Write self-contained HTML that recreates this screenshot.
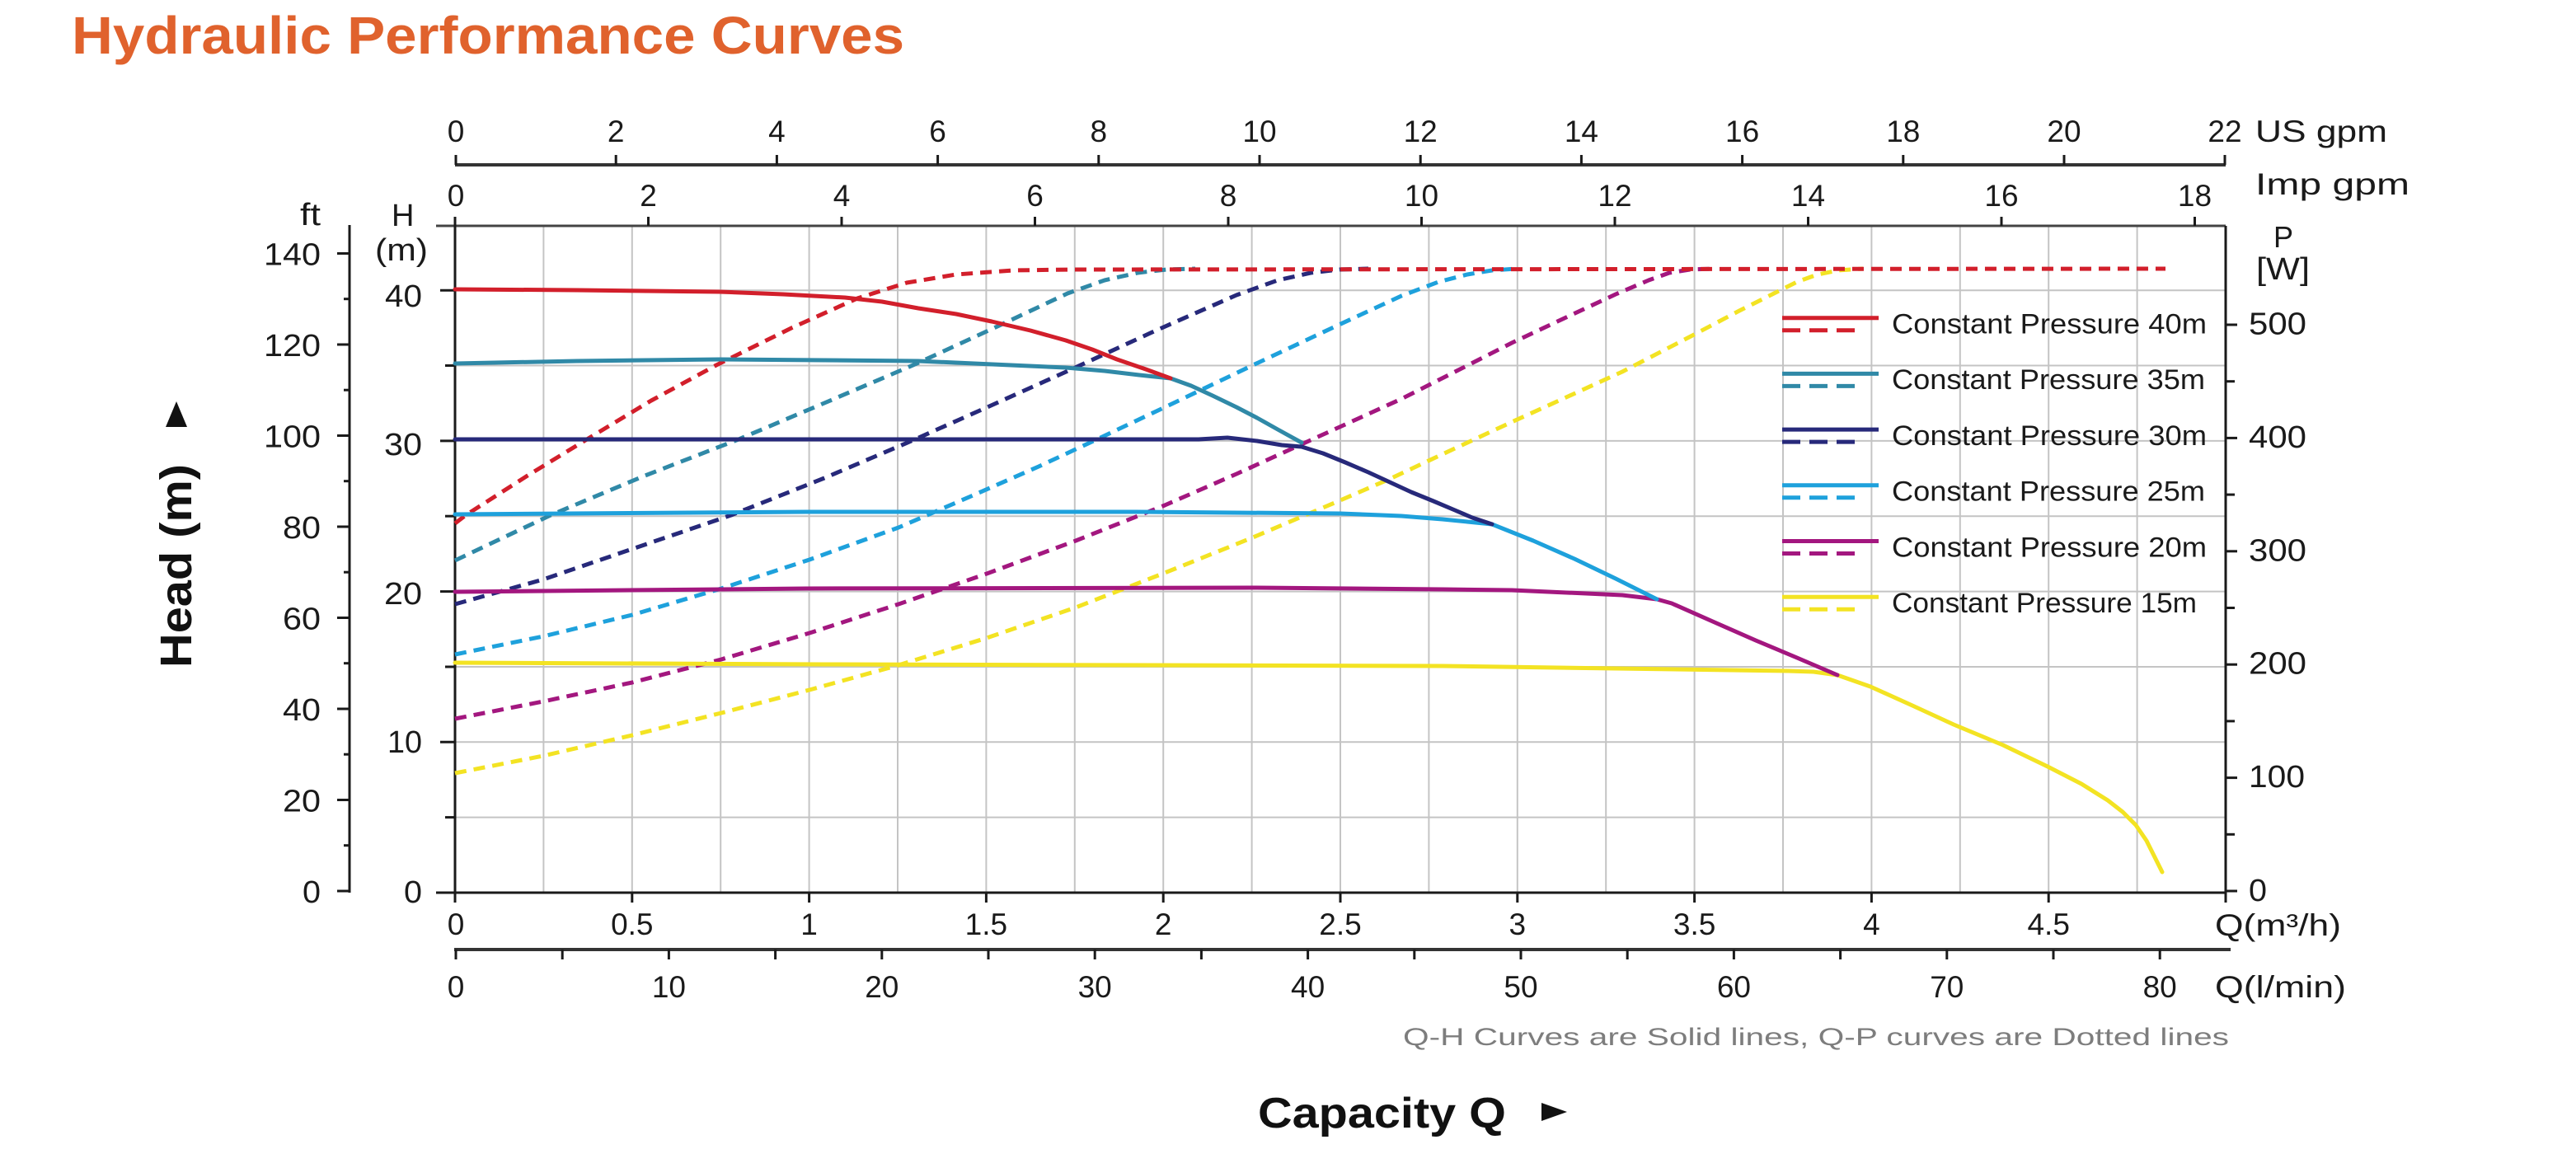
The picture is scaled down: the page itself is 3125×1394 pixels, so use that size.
<!DOCTYPE html>
<html>
<head>
<meta charset="utf-8">
<style>
html,body{margin:0;padding:0;background:#fff;width:3125px;height:1394px;overflow:hidden}
svg{display:block}
</style>
</head>
<body>
<svg width="3125" height="1394" viewBox="0 0 3125 1394" xmlns="http://www.w3.org/2000/svg" font-family="'Liberation Sans', Arial, sans-serif">
<rect width="3125" height="1394" fill="#ffffff"/>

<!-- Title -->
<text x="87" y="65" font-size="64" font-weight="bold" fill="#e0622d" textLength="1010" lengthAdjust="spacingAndGlyphs">Hydraulic Performance Curves</text>

<!-- Grid -->
<g stroke="#c4c4c4" stroke-width="2">
<line x1="659.4" y1="274" x2="659.4" y2="1083"/>
<line x1="766.8" y1="274" x2="766.8" y2="1083"/>
<line x1="874.2" y1="274" x2="874.2" y2="1083"/>
<line x1="981.6" y1="274" x2="981.6" y2="1083"/>
<line x1="1089" y1="274" x2="1089" y2="1083"/>
<line x1="1196.4" y1="274" x2="1196.4" y2="1083"/>
<line x1="1303.8" y1="274" x2="1303.8" y2="1083"/>
<line x1="1411.2" y1="274" x2="1411.2" y2="1083"/>
<line x1="1518.6" y1="274" x2="1518.6" y2="1083"/>
<line x1="1626" y1="274" x2="1626" y2="1083"/>
<line x1="1733.4" y1="274" x2="1733.4" y2="1083"/>
<line x1="1840.8" y1="274" x2="1840.8" y2="1083"/>
<line x1="1948.2" y1="274" x2="1948.2" y2="1083"/>
<line x1="2055.6" y1="274" x2="2055.6" y2="1083"/>
<line x1="2163" y1="274" x2="2163" y2="1083"/>
<line x1="2270.4" y1="274" x2="2270.4" y2="1083"/>
<line x1="2377.8" y1="274" x2="2377.8" y2="1083"/>
<line x1="2485.2" y1="274" x2="2485.2" y2="1083"/>
<line x1="2592.6" y1="274" x2="2592.6" y2="1083"/>
<line x1="552" y1="991.6" x2="2700" y2="991.6"/>
<line x1="552" y1="900.3" x2="2700" y2="900.3"/>
<line x1="552" y1="809" x2="2700" y2="809"/>
<line x1="552" y1="717.6" x2="2700" y2="717.6"/>
<line x1="552" y1="626.2" x2="2700" y2="626.2"/>
<line x1="552" y1="534.9" x2="2700" y2="534.9"/>
<line x1="552" y1="443.5" x2="2700" y2="443.5"/>
<line x1="552" y1="352.2" x2="2700" y2="352.2"/>
</g>

<!-- Axes lines -->
<g stroke="#1a1a1a" stroke-width="3" fill="none">
<line x1="552" y1="200" x2="2700" y2="200" stroke-width="4" stroke="#333"/>
<line x1="529" y1="274" x2="2700" y2="274" stroke="#444"/>
<line x1="552" y1="263" x2="552" y2="1095"/>
<line x1="2700" y1="274" x2="2700" y2="1095"/>
<line x1="529" y1="1083" x2="2700" y2="1083"/>
<line x1="551" y1="1152" x2="2706" y2="1152" stroke-width="4" stroke="#333"/>
<line x1="424" y1="273" x2="424" y2="1083"/>
</g>

<!-- ticks -->
<g stroke="#1a1a1a" stroke-width="3">
<line x1="747.2" y1="188" x2="747.2" y2="200"/>
<line x1="942.4" y1="188" x2="942.4" y2="200"/>
<line x1="1137.6" y1="188" x2="1137.6" y2="200"/>
<line x1="1332.8" y1="188" x2="1332.8" y2="200"/>
<line x1="1528" y1="188" x2="1528" y2="200"/>
<line x1="1723.2" y1="188" x2="1723.2" y2="200"/>
<line x1="1918.4" y1="188" x2="1918.4" y2="200"/>
<line x1="2113.6" y1="188" x2="2113.6" y2="200"/>
<line x1="2308.8" y1="188" x2="2308.8" y2="200"/>
<line x1="2504" y1="188" x2="2504" y2="200"/>
<line x1="2699" y1="188" x2="2699" y2="200"/>
<line x1="553" y1="188" x2="553" y2="200"/>
<line x1="786.5" y1="263" x2="786.5" y2="274"/>
<line x1="1021" y1="263" x2="1021" y2="274"/>
<line x1="1255.5" y1="263" x2="1255.5" y2="274"/>
<line x1="1490" y1="263" x2="1490" y2="274"/>
<line x1="1724.5" y1="263" x2="1724.5" y2="274"/>
<line x1="1959" y1="263" x2="1959" y2="274"/>
<line x1="2193.5" y1="263" x2="2193.5" y2="274"/>
<line x1="2428" y1="263" x2="2428" y2="274"/>
<line x1="2662.5" y1="263" x2="2662.5" y2="274"/>
<line x1="766.8" y1="1083" x2="766.8" y2="1095"/>
<line x1="981.6" y1="1083" x2="981.6" y2="1095"/>
<line x1="1196.4" y1="1083" x2="1196.4" y2="1095"/>
<line x1="1411.2" y1="1083" x2="1411.2" y2="1095"/>
<line x1="1626" y1="1083" x2="1626" y2="1095"/>
<line x1="1840.8" y1="1083" x2="1840.8" y2="1095"/>
<line x1="2055.6" y1="1083" x2="2055.6" y2="1095"/>
<line x1="2270.4" y1="1083" x2="2270.4" y2="1095"/>
<line x1="2485.2" y1="1083" x2="2485.2" y2="1095"/>
<line x1="553" y1="1152" x2="553" y2="1164"/>
<line x1="682.2" y1="1152" x2="682.2" y2="1164"/>
<line x1="811.4" y1="1152" x2="811.4" y2="1164"/>
<line x1="940.6" y1="1152" x2="940.6" y2="1164"/>
<line x1="1069.8" y1="1152" x2="1069.8" y2="1164"/>
<line x1="1199" y1="1152" x2="1199" y2="1164"/>
<line x1="1328.2" y1="1152" x2="1328.2" y2="1164"/>
<line x1="1457.4" y1="1152" x2="1457.4" y2="1164"/>
<line x1="1586.6" y1="1152" x2="1586.6" y2="1164"/>
<line x1="1715.8" y1="1152" x2="1715.8" y2="1164"/>
<line x1="1845" y1="1152" x2="1845" y2="1164"/>
<line x1="1974.2" y1="1152" x2="1974.2" y2="1164"/>
<line x1="2103.4" y1="1152" x2="2103.4" y2="1164"/>
<line x1="2232.6" y1="1152" x2="2232.6" y2="1164"/>
<line x1="2361.8" y1="1152" x2="2361.8" y2="1164"/>
<line x1="2491" y1="1152" x2="2491" y2="1164"/>
<line x1="2620.2" y1="1152" x2="2620.2" y2="1164"/>
<line x1="409" y1="1081" x2="424" y2="1081"/>
<line x1="409" y1="970.5" x2="424" y2="970.5"/>
<line x1="409" y1="860" x2="424" y2="860"/>
<line x1="409" y1="749.5" x2="424" y2="749.5"/>
<line x1="409" y1="639" x2="424" y2="639"/>
<line x1="409" y1="528.5" x2="424" y2="528.5"/>
<line x1="409" y1="418" x2="424" y2="418"/>
<line x1="409" y1="307.5" x2="424" y2="307.5"/>
<line x1="417" y1="1025.7" x2="424" y2="1025.7"/>
<line x1="417" y1="915.2" x2="424" y2="915.2"/>
<line x1="417" y1="804.7" x2="424" y2="804.7"/>
<line x1="417" y1="694.2" x2="424" y2="694.2"/>
<line x1="417" y1="583.7" x2="424" y2="583.7"/>
<line x1="417" y1="473.2" x2="424" y2="473.2"/>
<line x1="417" y1="362.7" x2="424" y2="362.7"/>
<line x1="534" y1="1083" x2="552" y2="1083"/>
<line x1="534" y1="900.3" x2="552" y2="900.3"/>
<line x1="534" y1="717.6" x2="552" y2="717.6"/>
<line x1="534" y1="534.9" x2="552" y2="534.9"/>
<line x1="534" y1="352.2" x2="552" y2="352.2"/>
<line x1="540" y1="991.6" x2="552" y2="991.6"/>
<line x1="540" y1="809" x2="552" y2="809"/>
<line x1="540" y1="626.2" x2="552" y2="626.2"/>
<line x1="540" y1="443.5" x2="552" y2="443.5"/>
<line x1="2700" y1="1081" x2="2714" y2="1081"/>
<line x1="2700" y1="943.6" x2="2714" y2="943.6"/>
<line x1="2700" y1="806.2" x2="2714" y2="806.2"/>
<line x1="2700" y1="668.8" x2="2714" y2="668.8"/>
<line x1="2700" y1="531.4" x2="2714" y2="531.4"/>
<line x1="2700" y1="394" x2="2714" y2="394"/>
<line x1="2700" y1="1012.3" x2="2711" y2="1012.3"/>
<line x1="2700" y1="874.9" x2="2711" y2="874.9"/>
<line x1="2700" y1="737.5" x2="2711" y2="737.5"/>
<line x1="2700" y1="600.1" x2="2711" y2="600.1"/>
<line x1="2700" y1="462.7" x2="2711" y2="462.7"/>
</g>

<!-- Dashed Q-P curves -->
<g fill="none" stroke-width="5" stroke-dasharray="14 9" stroke-linejoin="round">
<polyline stroke="#f3e323" points="552,938 659,917 767,892 875,865 982,837 1090,807 1197,774 1305,737 1413,695 1520,652 1626,607 1686,581 1750,551 1834,512 1900,482 1968,451 2055,406 2110,377 2150,357 2180,342 2205,333 2230,328 2260,326"/>
<polyline stroke="#a3177f" points="552,872 659,851 767,828 875,800 982,768 1090,733 1197,696 1305,656 1413,613 1500,575 1579,539 1700,484 1779,444 1834,416 1900,385 1960,357 2000,340 2025,331 2050,327 2080,326"/>
<polyline stroke="#1ea1dc" points="552,794 659,772 767,746 875,714 982,679 1090,640 1178,602 1260,566 1333,532 1430,486 1520,443 1620,396 1700,359 1745,342 1780,333 1810,328 1840,326"/>
<polyline stroke="#27297a" points="552,733 659,703 767,666 887,625 1000,580 1101,537 1200,493 1300,448 1400,402 1500,358 1550,340 1590,331 1625,327 1660,326"/>
<polyline stroke="#3089a7" points="552,680 668,625 780,578 896,533 1000,489 1110,442 1210,396 1295,356 1340,340 1380,331 1415,327 1450,326"/>
<polyline stroke="#d21f2b" points="552,635 565,625 640,577 712,533 790,486 869,443 960,398 1040,362 1100,343 1160,333 1230,328 1300,327 2627,326"/>
</g>

<!-- Solid Q-H curves -->
<g fill="none" stroke-width="5" stroke-linejoin="round" stroke-linecap="round">
<polyline stroke="#f3e323" points="552,804 1000,806 1750,808 2169,814 2200,815 2229,819 2269,833 2320,856 2370,879 2430,904 2484,930 2525,951 2557,971 2575,985 2591,1001 2604,1020 2614,1040 2623,1058"/>
<polyline stroke="#a3177f" points="552,718 978,714 1520,713 1750,715 1834,716 1968,722 2010,727 2028,732 2080,755 2130,777 2180,798 2229,819"/>
<polyline stroke="#1ea1dc" points="552,624 978,621 1377,621 1626,623 1700,626 1750,630 1780,633 1810,636 1860,656 1910,678 1960,702 2010,727"/>
<polyline stroke="#27297a" points="552,533 1454,533 1489,531 1525,535 1555,540 1579,542 1605,550 1632,561 1660,573 1686,585 1712,597 1739,608 1765,619 1786,628 1810,636"/>
<polyline stroke="#3089a7" points="552,441 700,438 873,436 1000,437 1114,438 1204,442 1293,446 1340,450 1382,455 1420,459 1445,468 1471,480 1500,494 1525,507 1550,521 1579,537"/>
<polyline stroke="#d21f2b" points="552,351 700,352 873,354 950,357 1025,361 1070,366 1114,374 1160,381 1203,390 1250,401 1293,413 1325,424 1355,436 1390,448 1420,459"/>
</g>

<!-- Legend -->
<g stroke-width="5" fill="none">
<line x1="2162" y1="385.7" x2="2279" y2="385.7" stroke="#d21f2b"/>
<line x1="2162" y1="400.7" x2="2250" y2="400.7" stroke="#d21f2b" stroke-dasharray="22 11"/>
<line x1="2162" y1="453.4" x2="2279" y2="453.4" stroke="#3089a7"/>
<line x1="2162" y1="468.4" x2="2250" y2="468.4" stroke="#3089a7" stroke-dasharray="22 11"/>
<line x1="2162" y1="521.1" x2="2279" y2="521.1" stroke="#27297a"/>
<line x1="2162" y1="536.1" x2="2250" y2="536.1" stroke="#27297a" stroke-dasharray="22 11"/>
<line x1="2162" y1="588.8" x2="2279" y2="588.8" stroke="#1ea1dc"/>
<line x1="2162" y1="603.8" x2="2250" y2="603.8" stroke="#1ea1dc" stroke-dasharray="22 11"/>
<line x1="2162" y1="656.5" x2="2279" y2="656.5" stroke="#a3177f"/>
<line x1="2162" y1="671.5" x2="2250" y2="671.5" stroke="#a3177f" stroke-dasharray="22 11"/>
<line x1="2162" y1="724.2" x2="2279" y2="724.2" stroke="#f3e323"/>
<line x1="2162" y1="739.2" x2="2250" y2="739.2" stroke="#f3e323" stroke-dasharray="22 11"/>
</g>
<g font-size="34" fill="#1a1a1a">
<text x="2295" y="404.5" textLength="382" lengthAdjust="spacingAndGlyphs">Constant Pressure 40m</text>
<text x="2295" y="472.2" textLength="380" lengthAdjust="spacingAndGlyphs">Constant Pressure 35m</text>
<text x="2295" y="539.9" textLength="382" lengthAdjust="spacingAndGlyphs">Constant Pressure 30m</text>
<text x="2295" y="607.6" textLength="380" lengthAdjust="spacingAndGlyphs">Constant Pressure 25m</text>
<text x="2295" y="675.3" textLength="382" lengthAdjust="spacingAndGlyphs">Constant Pressure 20m</text>
<text x="2295" y="743" textLength="370" lengthAdjust="spacingAndGlyphs">Constant Pressure 15m</text>
</g>

<!-- Top US gpm labels -->
<g font-size="37" fill="#1a1a1a" text-anchor="middle">
<text x="553" y="172">0</text>
<text x="747.2" y="172">2</text>
<text x="942.4" y="172">4</text>
<text x="1137.6" y="172">6</text>
<text x="1332.8" y="172">8</text>
<text x="1528" y="172">10</text>
<text x="1723.2" y="172">12</text>
<text x="1918.4" y="172">14</text>
<text x="2113.6" y="172">16</text>
<text x="2308.8" y="172">18</text>
<text x="2504" y="172">20</text>
<text x="2699" y="172">22</text>
</g>
<text x="2736" y="172" font-size="37" fill="#1a1a1a" textLength="160" lengthAdjust="spacingAndGlyphs">US gpm</text>

<!-- Imp gpm labels -->
<g font-size="37" fill="#1a1a1a" text-anchor="middle">
<text x="553" y="250">0</text>
<text x="786.5" y="250">2</text>
<text x="1021" y="250">4</text>
<text x="1255.5" y="250">6</text>
<text x="1490" y="250">8</text>
<text x="1724.5" y="250">10</text>
<text x="1959" y="250">12</text>
<text x="2193.5" y="250">14</text>
<text x="2428" y="250">16</text>
<text x="2662.5" y="250">18</text>
</g>
<text x="2736" y="236" font-size="37" fill="#1a1a1a" textLength="187" lengthAdjust="spacingAndGlyphs">Imp gpm</text>

<!-- ft labels -->
<g font-size="38" fill="#1a1a1a" text-anchor="end">
<text x="389" y="273" textLength="25" lengthAdjust="spacingAndGlyphs">ft</text>
<text x="389" y="321.5" textLength="69" lengthAdjust="spacingAndGlyphs">140</text>
<text x="389" y="432" textLength="69" lengthAdjust="spacingAndGlyphs">120</text>
<text x="389" y="542.5" textLength="69" lengthAdjust="spacingAndGlyphs">100</text>
<text x="389" y="653" textLength="46" lengthAdjust="spacingAndGlyphs">80</text>
<text x="389" y="763.5" textLength="46" lengthAdjust="spacingAndGlyphs">60</text>
<text x="389" y="874" textLength="46" lengthAdjust="spacingAndGlyphs">40</text>
<text x="389" y="984.5" textLength="46" lengthAdjust="spacingAndGlyphs">20</text>
<text x="389" y="1095" textLength="22" lengthAdjust="spacingAndGlyphs">0</text>
</g>

<!-- m labels -->
<g font-size="38" fill="#1a1a1a">
<text x="475" y="274">H</text>
<text x="455" y="316" textLength="64" lengthAdjust="spacingAndGlyphs">(m)</text>
</g>
<g font-size="38" fill="#1a1a1a" text-anchor="end">
<text x="512" y="372" textLength="45" lengthAdjust="spacingAndGlyphs">40</text>
<text x="512" y="552" textLength="46" lengthAdjust="spacingAndGlyphs">30</text>
<text x="512" y="733" textLength="46" lengthAdjust="spacingAndGlyphs">20</text>
<text x="512" y="913" textLength="42" lengthAdjust="spacingAndGlyphs">10</text>
<text x="512" y="1095" textLength="22" lengthAdjust="spacingAndGlyphs">0</text>
</g>

<!-- P labels -->
<g font-size="38" fill="#1a1a1a">
<text x="2758" y="300" font-size="36">P</text>
<text x="2737" y="339" textLength="65" lengthAdjust="spacingAndGlyphs">[W]</text>
<text x="2728" y="405.5" textLength="70" lengthAdjust="spacingAndGlyphs">500</text>
<text x="2728" y="543" textLength="70" lengthAdjust="spacingAndGlyphs">400</text>
<text x="2728" y="680.3" textLength="70" lengthAdjust="spacingAndGlyphs">300</text>
<text x="2728" y="817.7" textLength="70" lengthAdjust="spacingAndGlyphs">200</text>
<text x="2728" y="955.1" textLength="68" lengthAdjust="spacingAndGlyphs">100</text>
<text x="2728" y="1093" textLength="22" lengthAdjust="spacingAndGlyphs">0</text>
</g>

<!-- Q m3/h labels -->
<g font-size="37" fill="#1a1a1a" text-anchor="middle">
<text x="553" y="1134">0</text>
<text x="766.8" y="1134">0.5</text>
<text x="981.6" y="1134">1</text>
<text x="1196.4" y="1134">1.5</text>
<text x="1411.2" y="1134">2</text>
<text x="1626" y="1134">2.5</text>
<text x="1840.8" y="1134">3</text>
<text x="2055.6" y="1134">3.5</text>
<text x="2270.4" y="1134">4</text>
<text x="2485.2" y="1134">4.5</text>
</g>
<text x="2687" y="1135" font-size="37" fill="#1a1a1a" textLength="153" lengthAdjust="spacingAndGlyphs">Q(m³/h)</text>

<!-- l/min labels -->
<g font-size="37" fill="#1a1a1a" text-anchor="middle">
<text x="553" y="1210">0</text>
<text x="811.4" y="1210">10</text>
<text x="1069.8" y="1210">20</text>
<text x="1328.2" y="1210">30</text>
<text x="1586.6" y="1210">40</text>
<text x="1845" y="1210">50</text>
<text x="2103.4" y="1210">60</text>
<text x="2361.8" y="1210">70</text>
<text x="2620.2" y="1210">80</text>
</g>
<text x="2687" y="1210" font-size="37" fill="#1a1a1a" textLength="159" lengthAdjust="spacingAndGlyphs">Q(l/min)</text>

<!-- footnote -->
<text x="1702" y="1268" font-size="30" fill="#7d7d7d" textLength="1002" lengthAdjust="spacingAndGlyphs">Q-H Curves are Solid lines, Q-P curves are Dotted lines</text>

<!-- Capacity Q -->
<text x="1526" y="1368" font-size="52" font-weight="bold" fill="#111" textLength="301" lengthAdjust="spacingAndGlyphs">Capacity Q</text>
<polygon points="1870,1338 1901,1349 1870,1360" fill="#111"/>

<!-- Head (m) -->
<text transform="translate(232,810) rotate(-90)" x="0" y="0" font-size="54" font-weight="bold" fill="#111" textLength="247" lengthAdjust="spacingAndGlyphs">Head (m)</text>
<polygon points="201,518 227,518 214,487" fill="#111"/>

</svg>
</body>
</html>
